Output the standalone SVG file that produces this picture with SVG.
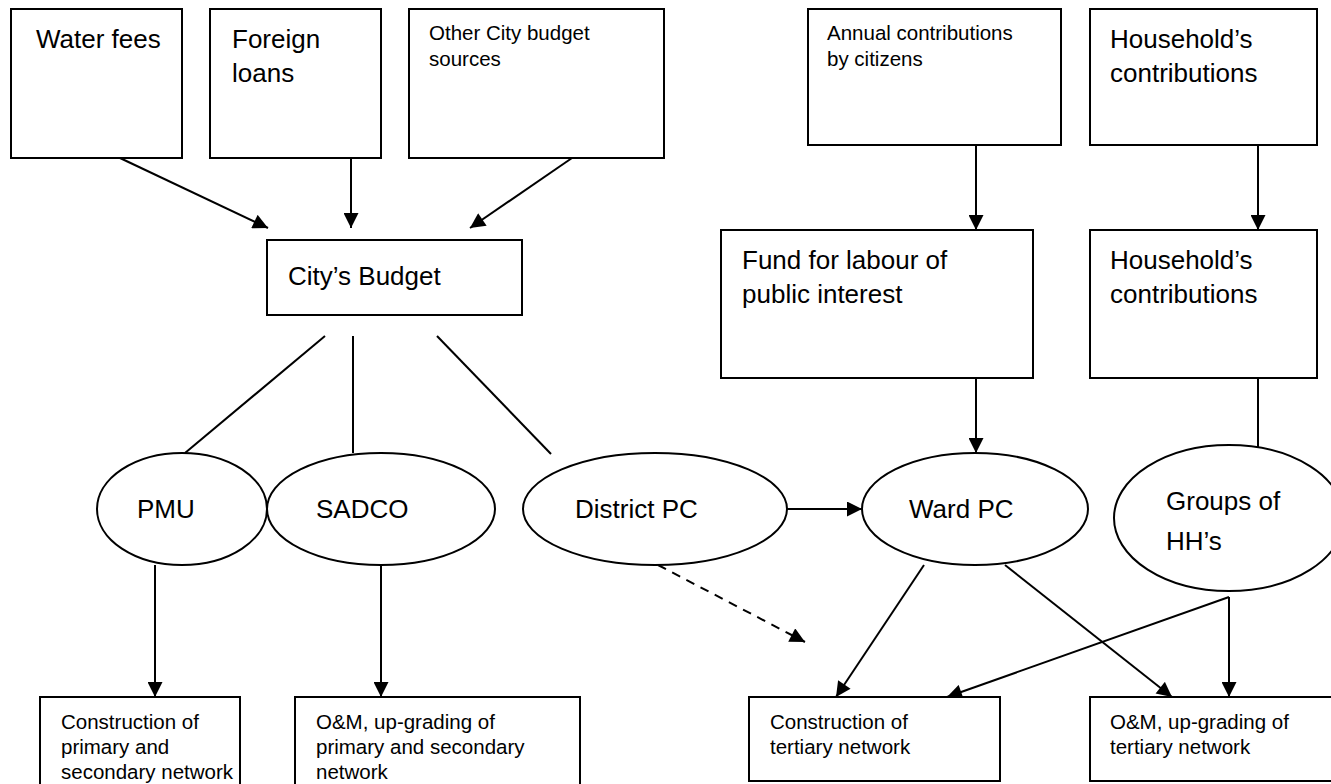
<svg xmlns="http://www.w3.org/2000/svg" width="1331" height="784" viewBox="0 0 1331 784">
<style>
.box{fill:#fff;stroke:#000;stroke-width:2}
.ell{fill:#fff;stroke:#000;stroke-width:2}
.ln{stroke:#000;stroke-width:2;fill:none}
.arr{stroke:#000;stroke-width:2;fill:none;marker-end:url(#ah)}
.dash{stroke-dasharray:9,7}
.big{font-family:"Liberation Sans",Arial,sans-serif;font-size:26px;fill:#000}
.sm{font-family:"Liberation Sans",Arial,sans-serif;font-size:20.5px;fill:#000}
</style>
<defs>
<marker id="ah" viewBox="0 0 16 16" refX="16" refY="8" markerWidth="8" markerHeight="7.5" markerUnits="strokeWidth" orient="auto">
<path d="M0,0 L16,8 L0,16 z" fill="#000"/>
</marker>
</defs>
<rect width="1331" height="784" fill="#fff"/>
<g id="connectors">
<line class="arr" x1="120" y1="158" x2="268" y2="228"/>
<line class="arr" x1="351" y1="158" x2="351" y2="228"/>
<line class="arr" x1="572" y1="158" x2="470" y2="228"/>
<line class="arr" x1="976" y1="145" x2="976" y2="230"/>
<line class="arr" x1="1258" y1="145" x2="1258" y2="230"/>
<line class="ln" x1="325" y1="336" x2="185" y2="453"/>
<line class="ln" x1="353" y1="336" x2="353" y2="453"/>
<line class="ln" x1="437" y1="336" x2="551" y2="454"/>
<line class="arr" x1="155" y1="565" x2="155" y2="697"/>
<line class="arr" x1="381" y1="565" x2="381" y2="697"/>
<line class="arr" x1="777" y1="509" x2="862" y2="509"/>
<line class="arr dash" x1="658" y1="565" x2="805" y2="642"/>
<line class="arr" x1="976" y1="378" x2="976" y2="453"/>
<line class="arr" x1="924" y1="565" x2="836" y2="697"/>
<line class="arr" x1="1005" y1="565" x2="1172" y2="697"/>
<line class="arr" x1="1229" y1="597" x2="947" y2="697"/>
<line class="arr" x1="1229" y1="597" x2="1229" y2="697"/>
<line class="ln" x1="1258" y1="378" x2="1258" y2="455"/>
</g>
<g id="water-fees"><rect class="box" x="11" y="9" width="171" height="149"/><text class="big" x="36" y="48">Water fees</text></g>
<g id="foreign-loans"><rect class="box" x="210" y="9" width="171" height="149"/><text class="big" x="232" y="48">Foreign</text><text class="big" x="232" y="82">loans</text></g>
<g id="other-sources"><rect class="box" x="409" y="9" width="255" height="149"/><text class="sm" x="429" y="40">Other City budget</text><text class="sm" x="429" y="66">sources</text></g>
<g id="annual-contrib"><rect class="box" x="808" y="9" width="253" height="136"/><text class="sm" x="827" y="40">Annual contributions</text><text class="sm" x="827" y="66">by citizens</text></g>
<g id="household-contrib-top"><rect class="box" x="1090" y="9" width="227" height="136"/><text class="big" x="1110" y="48">Household’s</text><text class="big" x="1110" y="82">contributions</text></g>
<g id="city-budget"><rect class="box" x="267" y="240" width="255" height="75"/><text class="big" x="288" y="285">City’s Budget</text></g>
<g id="fund-labour"><rect class="box" x="721" y="230" width="312" height="148"/><text class="big" x="742" y="269">Fund for labour of</text><text class="big" x="742" y="303">public interest</text></g>
<g id="household-contrib-2"><rect class="box" x="1090" y="230" width="227" height="148"/><text class="big" x="1110" y="269">Household’s</text><text class="big" x="1110" y="303">contributions</text></g>
<g id="pmu"><ellipse class="ell" cx="182" cy="509" rx="85" ry="56"/><text class="big" x="137" y="518">PMU</text></g>
<g id="sadco"><ellipse class="ell" cx="381" cy="509" rx="114" ry="56"/><text class="big" x="316" y="518">SADCO</text></g>
<g id="district-pc"><ellipse class="ell" cx="655" cy="509" rx="132" ry="56"/><text class="big" x="575" y="518">District PC</text></g>
<g id="ward-pc"><ellipse class="ell" cx="975" cy="509" rx="113" ry="56"/><text class="big" x="909" y="518">Ward PC</text></g>
<g id="groups-hh"><ellipse class="ell" cx="1229" cy="518" rx="115" ry="73"/><text class="big" x="1166" y="510">Groups of</text><text class="big" x="1166" y="550">HH’s</text></g>
<g id="constr-primary"><rect class="box" x="40" y="697" width="200" height="110"/><text class="sm" x="61" y="729">Construction of</text><text class="sm" x="61" y="754">primary and</text><text class="sm" x="61" y="779">secondary network</text></g>
<g id="om-primary"><rect class="box" x="295" y="697" width="285" height="110"/><text class="sm" x="316" y="729">O&amp;M, up-grading of</text><text class="sm" x="316" y="754">primary and secondary</text><text class="sm" x="316" y="779">network</text></g>
<g id="constr-tertiary"><rect class="box" x="749" y="697" width="251" height="84"/><text class="sm" x="770" y="729">Construction of</text><text class="sm" x="770" y="754">tertiary network</text></g>
<g id="om-tertiary"><rect class="box" x="1090" y="697" width="260" height="84"/><text class="sm" x="1110" y="729">O&amp;M, up-grading of</text><text class="sm" x="1110" y="754">tertiary network</text></g>
</svg>
